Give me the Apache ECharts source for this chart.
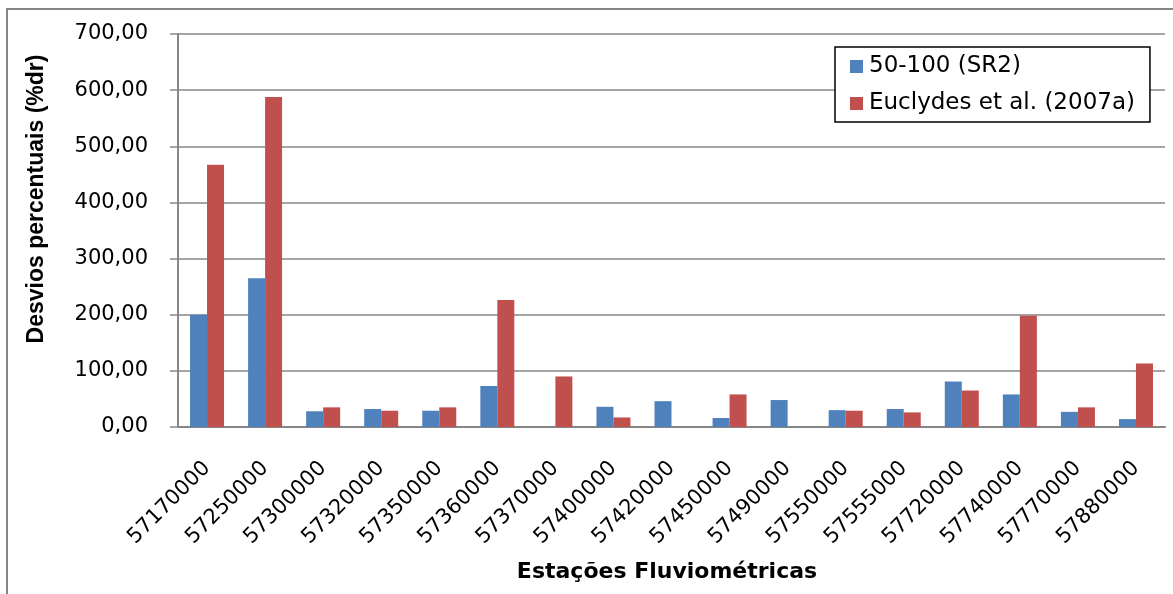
<!DOCTYPE html>
<html>
<head>
<meta charset="utf-8">
<script src="https://cdn.jsdelivr.net/npm/echarts@6/dist/echarts.min.js"></script>
<style>
  html, body { margin: 0; padding: 0; background: #fff; }
  #chart { width: 1173px; height: 594px; }
</style>
</head>
<body>
<div id="chart"></div>
<script>
// estações (eixo x)
const categories = [
  "57170000", "57250000", "57300000", "57320000", "57350000", "57360000",
  "57370000", "57400000", "57420000", "57450000", "57490000", "57550000",
  "57555000", "57720000", "57740000", "57770000", "57880000"
];
// desvios percentuais 50-100 (SR2)
const sr2Values = [200, 265, 28, 32, 29, 73, null, 36, 46, 16, 48, 30, 32, 81, 58, 27, 14];
// desvios percentuais Euclydes et al. (2007a)
const euclydesValues = [467, 588, 35, 29, 35, 226, 90, 17, null, 58, null, 29, 26, 65, 198, 35, 113];
// eixo y
const yTicks = [0, 100, 200, 300, 400, 500, 600, 700];

const gray = "#868686";
const chart = echarts.init(document.getElementById("chart"));

const option = {
  animation: false,
  backgroundColor: "#fff",
  textStyle: { fontFamily: "DejaVu Sans", color: "#000" },
  grid: { left: 178, right: 8, top: 34, bottom: 167, outerBoundsMode: "none" },
  legend: {
    orient: "vertical",
    left: 835,
    top: 47,
    padding: [8, 15, 7, 15],
    itemWidth: 13,
    itemHeight: 13,
    itemGap: 14,
    align: "left",
    backgroundColor: "#fff",
    borderColor: "#000",
    borderWidth: 1.5,
    borderRadius: 0,
    icon: "rect",
    textStyle: { fontSize: 23, color: "#000", fontFamily: "DejaVu Sans", padding: [0, 0, 0, 1] },
    data: ["50-100 (SR2)", "Euclydes et al. (2007a)"]
  },
  xAxis: {
    type: "category",
    data: categories,
    axisLine: { lineStyle: { color: gray, width: 2 } },
    axisTick: { show: false },
    axisLabel: {
      interval: 0,
      rotate: 45,
      margin: 38,
      fontSize: 21,
      color: "#000"
    }
  },
  yAxis: {
    type: "value",
    min: yTicks[0],
    max: yTicks[yTicks.length - 1],
    interval: 100,
    axisLine: { show: true, lineStyle: { color: gray, width: 2 } },
    axisTick: { show: true, length: 8, lineStyle: { color: gray, width: 1.5 } },
    splitLine: { lineStyle: { color: gray, width: 1.5 } },
    axisLabel: {
      margin: 30,
      fontSize: 21,
      color: "#000",
      formatter: (v) => v.toFixed(2).replace(".", ",")
    }
  },
  graphic: [
    // moldura do gráfico
    {
      type: "rect",
      shape: { x: 7, y: 9, width: 1300, height: 800 },
      style: { fill: null, stroke: gray, lineWidth: 2 },
      z: -1
    },
    // título do eixo y
    {
      type: "text",
      x: 37,
      y: 199,
      rotation: Math.PI / 2,
      style: {
        text: "Desvios percentuais (%dr)",
        font: "bold 23px 'Liberation Sans'",
        fill: "#000",
        align: "center",
        verticalAlign: "middle"
      }
    },
    // título do eixo x
    {
      type: "text",
      x: 667,
      y: 572,
      style: {
        text: "Estações Fluviométricas",
        font: "bold 22px 'DejaVu Sans'",
        fill: "#000",
        align: "center",
        verticalAlign: "middle"
      }
    }
  ],
  series: [
    {
      name: "50-100 (SR2)",
      type: "bar",
      data: sr2Values,
      barWidth: 17,
      barGap: "0%",
      itemStyle: { color: "#4F81BD" }
    },
    {
      name: "Euclydes et al. (2007a)",
      type: "bar",
      data: euclydesValues,
      barWidth: 17,
      barGap: "0%",
      itemStyle: { color: "#C0504D" }
    }
  ]
};

chart.setOption(option);
</script>
</body>
</html>
